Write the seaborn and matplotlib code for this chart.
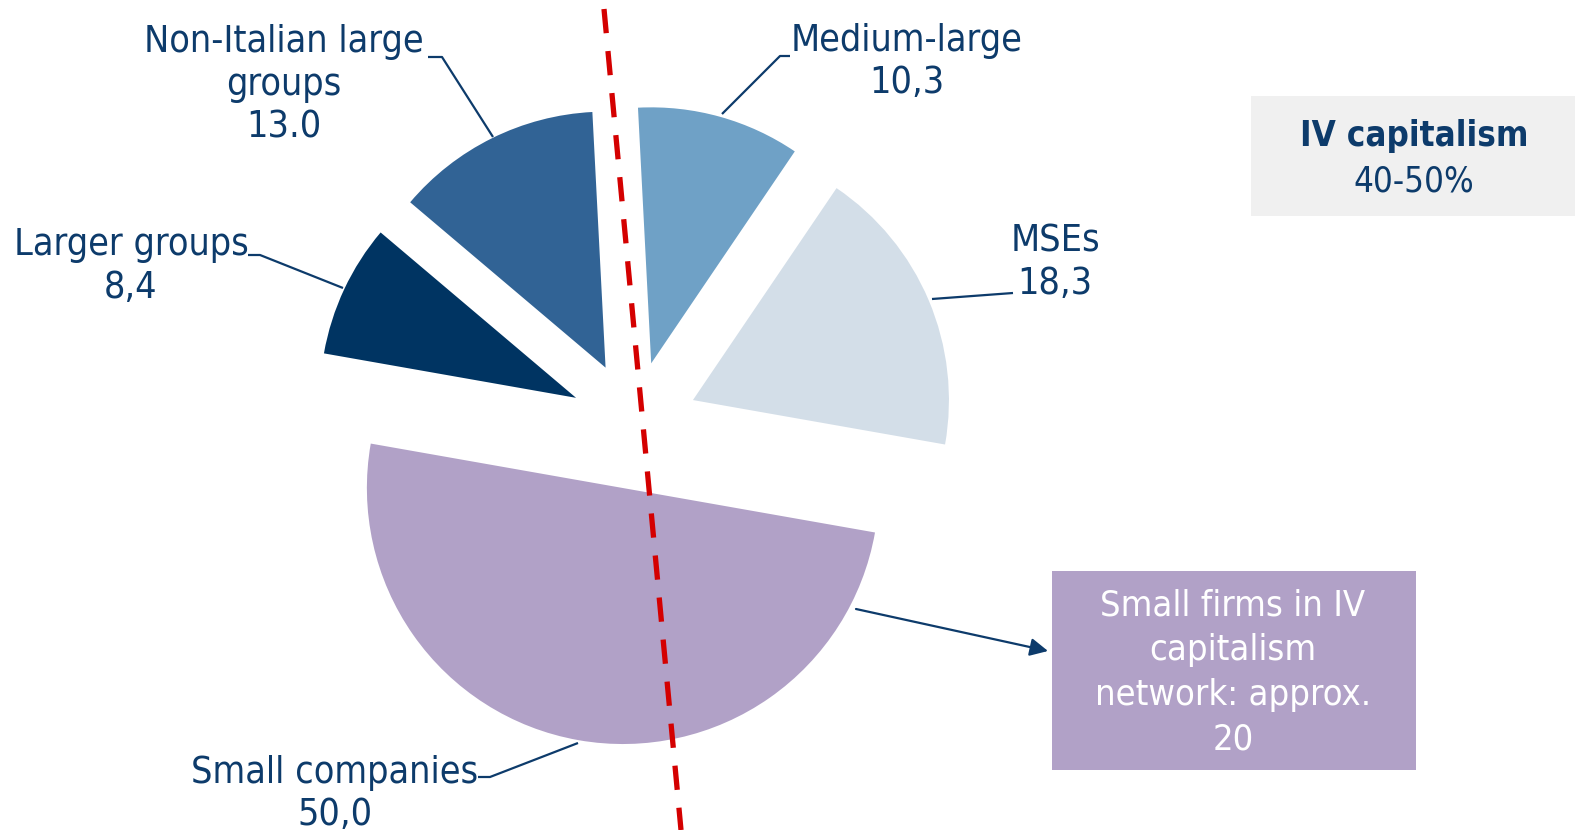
import matplotlib
matplotlib.use("Agg")
import matplotlib.pyplot as plt
from matplotlib.patches import Rectangle
import seaborn as sns

# ---- data ----
categories = ["MSEs", "Medium-large", "Non-Italian large groups", "Larger groups", "Small companies"]
shares = [18.3, 10.3, 13.0, 8.4, 50.0]
label_names = ["MSEs", "Medium-large", "Non-Italian large\ngroups", "Larger groups", "Small companies"]
value_labels = ["18,3", "10,3", "13.0", "8,4", "50,0"]
slice_colors = ["#d3dee8", "#6fa1c6", "#316395", "#003462", "#b1a1c7"]
note_small = "Small firms in IV\ncapitalism\nnetwork: approx.\n20"
note_title = "IV capitalism"
note_range = "40-50%"

W, H = 1575, 830
NAVY = "#0d3b6b"
RADIUS = 256

sns.set_theme(style="white")
plt.rcParams['font.family'] = ['DejaVu Sans']
FONT = dict(family='DejaVu Sans', stretch='condensed')

fig = plt.figure(figsize=(W / 100, H / 100), dpi=100)
ax = fig.add_axes([0, 0, 1, 1])


def Y(y):
    return H - y


palette = sns.color_palette(slice_colors)
ax.pie(shares, colors=palette, startangle=-10, counterclock=True,
       explode=[0.25 * RADIUS] * len(shares), radius=RADIUS, center=(634, Y(425)),
       wedgeprops=dict(linewidth=0), frame=True)
ax.set_xlim(0, W)
ax.set_ylim(0, H)
ax.set_axis_off()

# labels: (x centre, first baseline, line step)
label_pos = [(1055, 252, 42), (907, 51, 42), (284, 52, 43), (131, 255, 43), (335, 783, 42)]
for name, val, (x, y0, dy) in zip(label_names, value_labels, label_pos):
    lines = name.split("\n") + [val]
    for i, ln in enumerate(lines):
        ax.text(x, Y(y0 + i * dy), ln, ha='center', va='baseline', fontsize=27,
                color=NAVY, **FONT)

# leader lines
leaders = [
    [(932, 299), (1013, 293)],
    [(790, 56), (780, 56), (722, 114)],
    [(428, 57), (442, 57), (493, 137)],
    [(248, 255), (260, 255), (343, 288)],
    [(478, 777), (490, 777), (578, 743)],
]
for pts in leaders:
    ax.plot([p[0] for p in pts], [Y(p[1]) for p in pts], color=NAVY, lw=1.6,
            solid_capstyle='butt')

# red dashed divider
ax.plot([604, 681], [Y(9), Y(830)], color="#d40000", lw=3.8,
        dashes=(4.6, 3.4), zorder=5)

# purple note box
ax.add_patch(Rectangle((1052, Y(770)), 1416 - 1052, 770 - 571,
                       facecolor="#b1a1c7", edgecolor='none'))
for i, ln in enumerate(note_small.split("\n")):
    ax.text(1233, Y(615 + i * 45), ln, ha='center', va='baseline', fontsize=26,
            color='white', **FONT)

ax.annotate("", xy=(1048, Y(651)), xytext=(856, Y(609)),
            arrowprops=dict(arrowstyle="-|>,head_length=0.9,head_width=0.45",
                            color=NAVY, lw=1.6, shrinkA=0, shrinkB=0))

# grey note box
ax.add_patch(Rectangle((1251, Y(216)), W - 1251, 216 - 96,
                       facecolor="#f0f0f0", edgecolor='none'))
ax.text(1414, Y(146), note_title, ha='center', va='baseline', fontsize=25,
        color=NAVY, fontweight='bold', **FONT)
ax.text(1414, Y(191), note_range, ha='center', va='baseline', fontsize=25,
        color=NAVY, **FONT)

fig.savefig("out.png", dpi=100)
